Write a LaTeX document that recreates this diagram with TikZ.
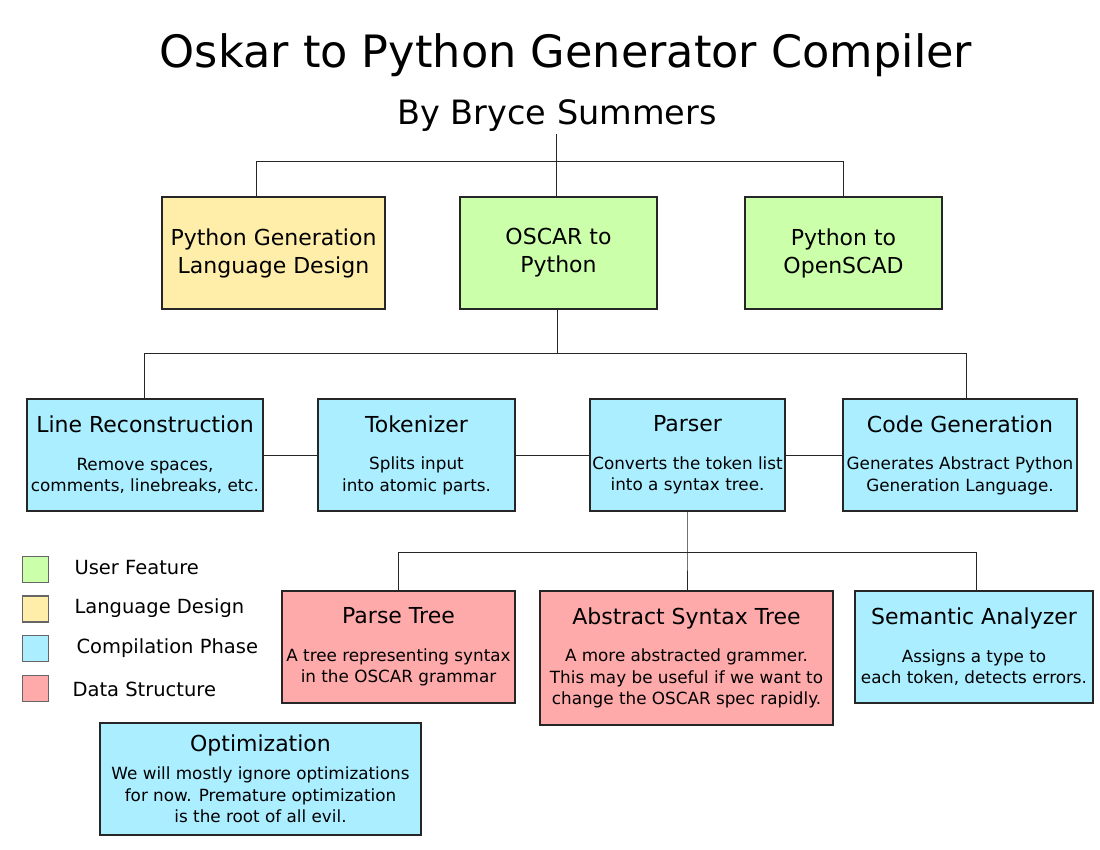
\documentclass[tikz,border=0pt]{standalone}
\usepackage{fontspec}
\setmainfont{DejaVu Sans}
\usetikzlibrary{calc}
\definecolor{userfeat}{HTML}{CCFFAA}
\definecolor{langdesign}{HTML}{FFEEAA}
\definecolor{compphase}{HTML}{AAEEFF}
\definecolor{datastruct}{HTML}{FFAAAA}
\tikzset{
  box/.style={draw=black!85,line width=2pt,align=center,inner sep=0pt,
    font=\fontsize{16.8}{21.5}\selectfont},
  link/.style={draw=black!85,line width=1pt},
  key/.style={draw=black!60,line width=1.5pt,minimum size=26pt,inner sep=0pt},
  keytext/.style={anchor=west,font=\fontsize{19.5}{23}\selectfont}
}
\newcommand{\hd}[1]{{\fontsize{22}{26}\selectfont #1}\\[16pt]}

\begin{document}
\begin{tikzpicture}[x=1pt,y=-1pt]
\useasboundingbox (0,0) rectangle (1100,850);
\node[font=\fontsize{44.6}{54}\selectfont] (title) at (566,55) {Oskar to Python Generator Compiler};
\node[font=\fontsize{33.5}{40}\selectfont,inner sep=2pt] (author) at (557,116) {By Bryce Summers};
\node[box,fill=langdesign,minimum width=223pt,minimum height=112pt,font=\fontsize{22}{28}\selectfont] (pgl) at (273.5,253) {Python Generation\\Language Design};
\node[box,fill=userfeat,minimum width=197pt,minimum height=112pt,font=\fontsize{22}{28}\selectfont] (o2p) at (558.5,253) {OSCAR to\\Python};
\node[box,fill=userfeat,minimum width=197pt,minimum height=112pt,font=\fontsize{22}{28}\selectfont] (p2s) at (843.5,253) {Python to\\OpenSCAD};
\node[box,fill=compphase,minimum width=236pt,minimum height=112pt] (linerec) at (145,455) {\hd{Line Reconstruction}Remove spaces,\\comments, linebreaks, etc.};
\node[box,fill=compphase,minimum width=197pt,minimum height=112pt] (tok) at (416.5,455) {\hd{Tokenizer}Splits input\\into atomic parts.};
\node[box,fill=compphase,minimum width=195pt,minimum height=112pt] (parser) at (687.5,455) {\hd{Parser}Converts the token list\\into a syntax tree.};
\node[box,fill=compphase,minimum width=234pt,minimum height=112pt] (codegen) at (960,455) {\hd{Code Generation}Generates Abstract Python\\Generation Language.};
\node[box,fill=datastruct,minimum width=233pt,minimum height=112pt] (ptree) at (398.5,647) {\hd{Parse Tree}A tree representing syntax\\in the OSCAR grammar};
\node[box,fill=datastruct,minimum width=293pt,minimum height=134pt] (ast) at (686.5,658) {\hd{Abstract Syntax Tree}A more abstracted grammer.\\This may be useful if we want to\\change the OSCAR spec rapidly.};
\node[box,fill=compphase,minimum width=238pt,minimum height=112pt] (sem) at (974,647) {\hd{Semantic Analyzer}Assigns a type to\\each token, detects errors.};
\node[box,fill=compphase,minimum width=321pt,minimum height=112pt] (opt) at (260.5,779) {{\fontsize{22}{26}\selectfont Optimization}\\[7pt]We will mostly ignore optimizations\\for now. Premature optimization\\is the root of all evil.};
\node[key,fill=userfeat] (k1) at (35.5,569.5) {};
\node[key,fill=langdesign] (k2) at (35.5,609) {};
\node[key,fill=compphase] (k3) at (35.5,648.5) {};
\node[key,fill=datastruct] (k4) at (35.5,688.5) {};
\node[keytext] (t1) at (71,568) {User Feature};
\node[keytext] (t2) at (71,608) {Language Design};
\node[keytext] (t3) at (73,648) {Compilation Phase};
\node[keytext] (t4) at (69,689) {Data Structure};
\coordinate (bar1) at (556,162);
\coordinate (bar1l) at (256,162);
\coordinate (bar2) at (557,353);
\coordinate (bar2l) at (144,353);
\coordinate (bar2r) at (966,353);
\coordinate (bar3) at (687,552);
\coordinate (bar3l) at (398,552);
\coordinate (bar3r) at (976,552);
\draw[link] (bar1 |- author.south) -- (bar1);
\draw[link] (bar1l |- pgl.north) -- (bar1l) -| (p2s.north);
\draw[link] (bar1) -- (bar1 |- o2p.north);
\draw[link] (bar2 |- o2p.south) -- (bar2);
\draw[link] (bar2l |- linerec.north) -- (bar2l) -- (bar2r) -- (bar2r |- codegen.north);
\draw[link] (linerec.east) -- (tok.west);
\draw[link] (tok.east) -- (parser.west);
\draw[link] (parser.east) -- (codegen.west);
\draw[link] (bar3 |- parser.south) -- (bar3) -- (bar3 |- ast.north);
\draw[link] (bar3l |- ptree.north) -- (bar3l) -- (bar3r) -- (bar3r |- sem.north);
\end{tikzpicture}
\end{document}
